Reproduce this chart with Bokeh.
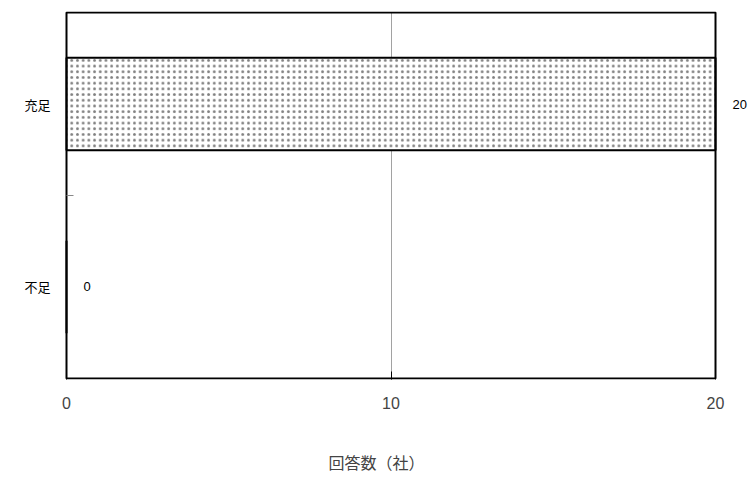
from bokeh.plotting import figure
from bokeh.models import Range1d, FixedTicker, ColumnDataSource, Label
from bokeh.embed import file_html
from bokeh.resources import INLINE

categories = ["不足", "充足"]
values = [0, 20]
x_ticks = [0, 10, 20]
x_max = 20
x_title = "回答数（社）"

ypos = [i + 0.5 for i in range(len(categories))]
src = ColumnDataSource(dict(y=ypos, v=values))
n = len(categories)

# frame spans the whole canvas width; the visible box is drawn from 0 to x_max,
# so category labels (left) and value labels (right) fit inside the frame
p = figure(width=752, height=476, output_backend="svg", toolbar_location=None,
           x_range=Range1d(-2.034, 21.14), y_range=Range1d(-0.006, n + 0.006),
           min_border_left=0, min_border_right=0, min_border_top=11, min_border_bottom=96)
p.outline_line_color = None

p.hbar(y="y", left=0, right="v", height=0.505, source=src,
       fill_color="white", line_color="black", line_width=2,
       hatch_pattern="dot", hatch_color="#808080", hatch_scale=5.7, hatch_weight=1.0)

# plot box
p.quad(left=[0], right=[x_max], bottom=[0], top=[n],
       fill_color=None, line_color="black", line_width=2)

# small tick at the boundary between the categories
p.ray(x=[0] * (n - 1), y=list(range(1, n)), length=7, length_units="screen",
      angle=0, line_color="#888888", line_width=1)

for yv, v in zip(ypos, values):
    p.add_layout(Label(x=v, y=yv, text=str(v), x_offset=17,
                       text_align="left", text_baseline="middle",
                       text_font="Liberation Sans", text_font_size="13px",
                       text_color="black"))

for yv, c in zip(ypos, categories):
    p.add_layout(Label(x=0, y=yv, text=c, x_offset=-16,
                       text_align="right", text_baseline="middle",
                       text_font="Noto Sans CJK JP", text_font_size="13px",
                       text_color="black"))

p.yaxis.visible = False
p.ygrid.grid_line_color = None

p.xaxis.ticker = FixedTicker(ticks=x_ticks)
p.xaxis.axis_line_color = None
p.xaxis.major_tick_in = 8
p.xaxis.major_tick_out = 0
p.xaxis.minor_tick_line_color = None
p.xaxis.major_label_standoff = 17
p.xaxis.major_label_text_font = "Liberation Sans"
p.xaxis.major_label_text_font_size = "16px"
p.xaxis.axis_label = x_title
p.xaxis.axis_label_standoff = 38
p.xaxis.axis_label_text_font = "Noto Sans CJK JP"
p.xaxis.axis_label_text_font_style = "normal"
p.xaxis.axis_label_text_font_size = "16px"

p.xgrid.ticker = FixedTicker(ticks=[10])
p.xgrid.grid_line_color = "#444444"
p.xgrid.grid_line_width = 1
p.xgrid.grid_line_dash = "1 1"

open("out.html", "w").write(file_html(p, INLINE))
